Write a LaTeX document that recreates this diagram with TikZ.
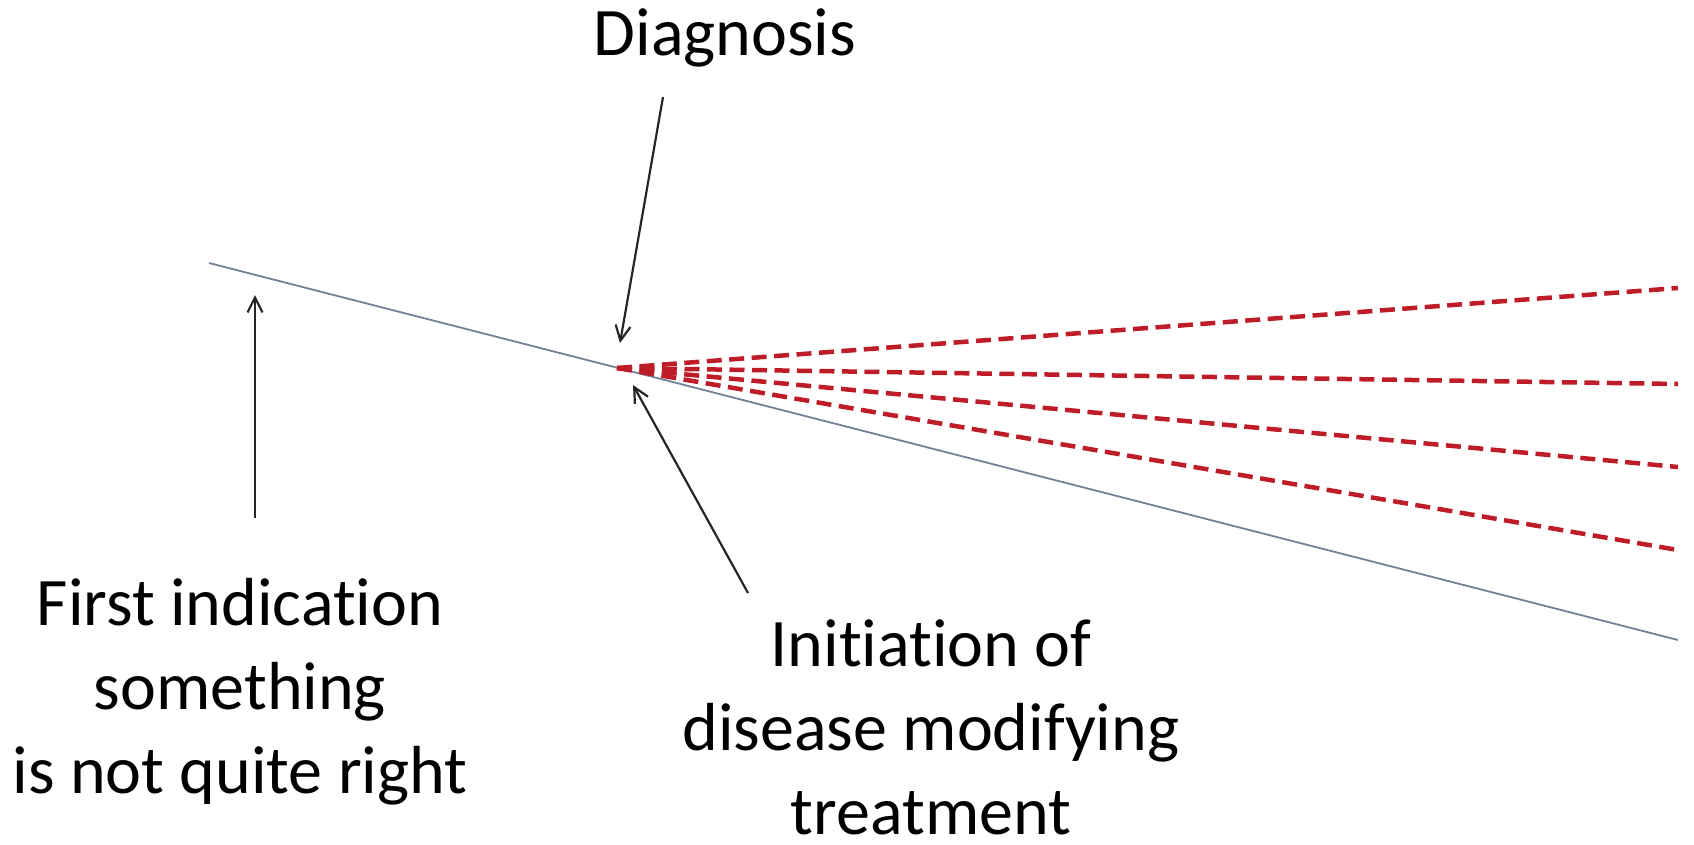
\documentclass[tikz,border=0pt]{standalone}
\usepackage{fontspec}
\setmainfont{Carlito}[Ligatures=NoCommon]
\usetikzlibrary{arrows.meta}
\definecolor{axisgrey}{RGB}{115,130,150}
\definecolor{pathred}{RGB}{190,28,38}
\tikzset{
  label/.style={inner sep=0pt, align=center, font=\fontsize{68}{84}\selectfont, anchor=base},
  pointer/.style={draw=black!85, line width=2.2pt, -{Straight Barb[length=15pt,width=15pt,line width=2.2pt]}},
  course/.style={draw=axisgrey, line width=1.8pt},
  outcome/.style={draw=pathred, line width=4.5pt, dash pattern=on 15pt off 7.5pt}
}
\begin{document}
\begin{tikzpicture}[x=1pt,y=-1pt]
  \useasboundingbox (0,0) rectangle (1694,844);

  % baseline course of the disease and the treatment branch point
  \coordinate (start) at (209,263);
  \coordinate (apex)  at (617,368);
  \coordinate (tail)  at (1678,640);
  \draw[course] (start) -- (tail);

  % possible courses after treatment starts
  \coordinate (o1) at (1678,288);
  \coordinate (o2) at (1678,384);
  \coordinate (o3) at (1678,467);
  \coordinate (o4) at (1678,550);
  \foreach \e in {o1,o2,o3,o4}
    \draw[outcome] (apex) -- (\e);

  % labels (multi-line labels sit on the baseline of their last line)
  \node[label] (diag)  at (725,55)  {Diagnosis};
  \node[label] (first) at (240,793) {First indication\\something\\is not quite right};
  \node[label, text depth=0pt] (init) at (931,834) {Initiation of\\disease modifying\\treatment};

  % pointers
  \coordinate (diagfrom) at (663,97);
  \coordinate (diagto)   at (620,343);
  \draw[pointer] (diagfrom) -- (diagto);

  \coordinate (firstfrom) at (255,518);
  \coordinate (firstto)   at (255,295);
  \draw[pointer] (firstfrom) -- (firstto);

  \coordinate (initfrom) at (748,593);
  \coordinate (initto)   at (633,385);
  \draw[pointer] (initfrom) -- (initto);
\end{tikzpicture}
\end{document}
